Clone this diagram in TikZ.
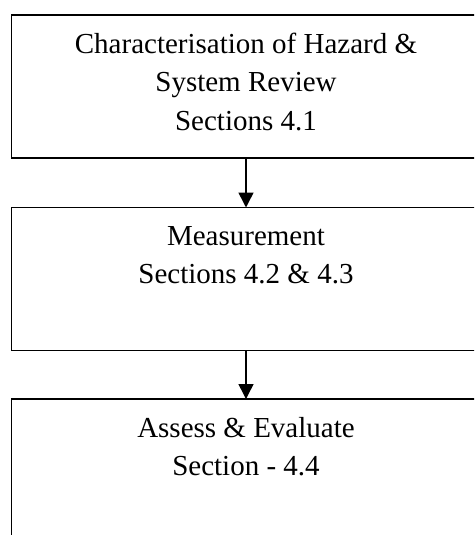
\documentclass[tikz,border=0pt]{standalone}
\usepackage{fontspec}
\setmainfont{Liberation Serif}
\usetikzlibrary{arrows.meta}
\begin{document}
\begin{tikzpicture}[x=1pt,y=-1pt,
  box/.style={draw, line width=1.5pt, rectangle, minimum width=469pt, minimum height=143pt, inner sep=0pt, outer sep=0pt},
  txt/.style={anchor=base, inner sep=0pt, font=\fontsize{29}{38.5}\selectfont},
  arr/.style={draw, line width=1.5pt, -{Triangle[width=15pt,length=15pt]}}]
\useasboundingbox (0,0) rectangle (474,535);
\clip (0,0) rectangle (474,535);
\node[box] (b1) at (246,86.5) {};
\node[box] (b2) at (246,279) {};
\node[box] (b3) at (246,470.5) {};
\node[txt] (t1a) at (246,53) {Characterisation of Hazard \&};
\node[txt] (t1b) at (246,91.5) {System Review};
\node[txt] (t1c) at (246,130) {Sections 4.1};
\node[txt] (t2a) at (246,245) {Measurement};
\node[txt] (t2b) at (246,283.5) {Sections 4.2 \& 4.3};
\node[txt] (t3a) at (246,437) {Assess \& Evaluate};
\node[txt] (t3b) at (246,475.5) {Section - 4.4};
\draw[line width=2.6pt] (198,158) -- (222,158);
\draw[arr] (b1.south) -- (b2.north);
\draw[arr] (b2.south) -- (b3.north);
\end{tikzpicture}
\end{document}
